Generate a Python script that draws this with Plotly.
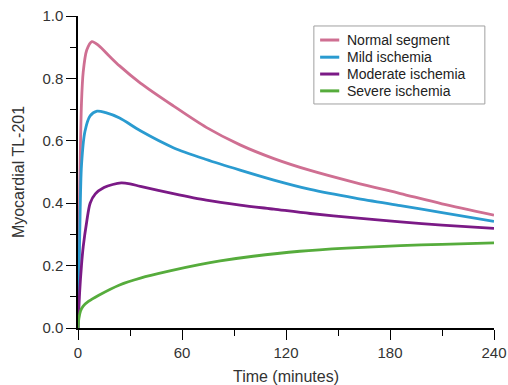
import plotly.graph_objects as go

# Time (minutes) and Myocardial TL-201 values
normal_t = [0, 1, 2, 3, 5, 8, 12, 18, 24, 36, 55, 74, 93.5, 113, 134, 160, 186, 210, 240]
normal_y = [0, 0.45, 0.72, 0.82, 0.89, 0.918, 0.905, 0.872, 0.84, 0.785, 0.712, 0.643, 0.587, 0.543, 0.505, 0.466, 0.431, 0.398, 0.362]

mild_t = [0, 1, 2, 4, 7, 11, 16, 24, 36, 55, 74, 93.5, 113, 134, 160, 186, 210, 240]
mild_y = [0, 0.3, 0.52, 0.63, 0.68, 0.695, 0.69, 0.673, 0.632, 0.578, 0.54, 0.506, 0.474, 0.444, 0.416, 0.392, 0.37, 0.342]

moderate_t = [0, 1, 2, 3, 5, 7, 10, 15, 20, 25, 30, 36, 55, 74, 93.5, 113, 134, 160, 186, 210, 240]
moderate_y = [0, 0.12, 0.2, 0.26, 0.34, 0.40, 0.43, 0.45, 0.46, 0.465, 0.462, 0.454, 0.431, 0.41, 0.394, 0.381, 0.367, 0.353, 0.34, 0.33, 0.319]

severe_t = [0, 0.5, 1.5, 3, 6, 12, 24, 36, 53, 70, 82, 101, 128, 155, 186, 210, 240]
severe_y = [0, 0.03, 0.055, 0.07, 0.085, 0.105, 0.138, 0.16, 0.183, 0.203, 0.215, 0.23, 0.246, 0.256, 0.264, 0.268, 0.273]

names = ["Normal segment", "Mild ischemia", "Moderate ischemia", "Severe ischemia"]
colors = ["#cf6f92", "#2a9bd0", "#7b1a86", "#56ac3c"]

x_ticks = [0, 60, 120, 180, 240]
y_ticks = [0.0, 0.2, 0.4, 0.6, 0.8, 1.0]

FONT = "Liberation Sans, Arial, Helvetica, sans-serif"
TXT = "#333333"

fig = go.Figure()
for t, y, n, c in zip([normal_t, mild_t, moderate_t, severe_t],
                      [normal_y, mild_y, moderate_y, severe_y], names, colors):
    fig.add_trace(go.Scatter(x=t, y=y, name=n, mode="lines", showlegend=False,
                             line=dict(color=c, width=2.8, shape="spline", smoothing=0.8)))

# Legend drawn as a boxed key (paper coordinates)
leg_x0, leg_x1, leg_y0, leg_y1 = 0.567, 0.978, 0.718, 0.968
row_y = [0.923, 0.868, 0.814, 0.760]
shapes = [dict(type="rect", xref="paper", yref="paper", x0=leg_x0, x1=leg_x1, y0=leg_y0, y1=leg_y1,
               line=dict(color="#a0a0a0", width=1), fillcolor="white", layer="above")]
annotations = []
for n, c, ry in zip(names, colors, row_y):
    shapes.append(dict(type="line", xref="paper", yref="paper", x0=0.582, x1=0.628, y0=ry, y1=ry,
                       line=dict(color=c, width=3), layer="above"))
    annotations.append(dict(text=n, xref="paper", yref="paper", x=0.642, y=ry, xanchor="left",
                            yanchor="middle", showarrow=False,
                            font=dict(family=FONT, size=14, color="#222222")))

fig.update_layout(
    width=508, height=385,
    margin=dict(l=78, r=14, t=16, b=57),
    paper_bgcolor="white", plot_bgcolor="white",
    font=dict(family=FONT, size=15, color=TXT),
    showlegend=False,
    shapes=shapes,
    annotations=annotations,
)

fig.update_xaxes(
    range=[0, 240], tickvals=x_ticks, ticktext=[str(v) for v in x_ticks],
    showline=True, linecolor="black", linewidth=1.5,
    ticks="outside", ticklen=10, tickwidth=1.2, tickcolor="black",
    minor=dict(ticks="outside", ticklen=6, tickwidth=1.2, tickcolor="black", dtick=30, showgrid=False),
    showgrid=False, zeroline=False, automargin=False, ticklabeloverflow="allow",
    title=dict(text="Time (minutes)", font=dict(size=16, color=TXT), standoff=12),
    tickfont=dict(size=15, color=TXT),
)
fig.update_yaxes(
    range=[0, 1.0], tickvals=y_ticks, ticktext=[f"{v:.1f}" for v in y_ticks],
    showline=True, linecolor="black", linewidth=1.5,
    ticks="outside", ticklen=10, tickwidth=1.2, tickcolor="black",
    minor=dict(ticks="outside", ticklen=6, tickwidth=1.2, tickcolor="black", dtick=0.1, showgrid=False),
    showgrid=False, zeroline=False, automargin=False, ticklabeloverflow="allow",
    title=dict(text="Myocardial TL-201", font=dict(size=16, color=TXT), standoff=14),
    tickfont=dict(size=15, color=TXT),
)

fig.write_html("out.html", config={"displayModeBar": False},
               post_script="document.body.style.margin='0';document.body.style.overflow='hidden';")
